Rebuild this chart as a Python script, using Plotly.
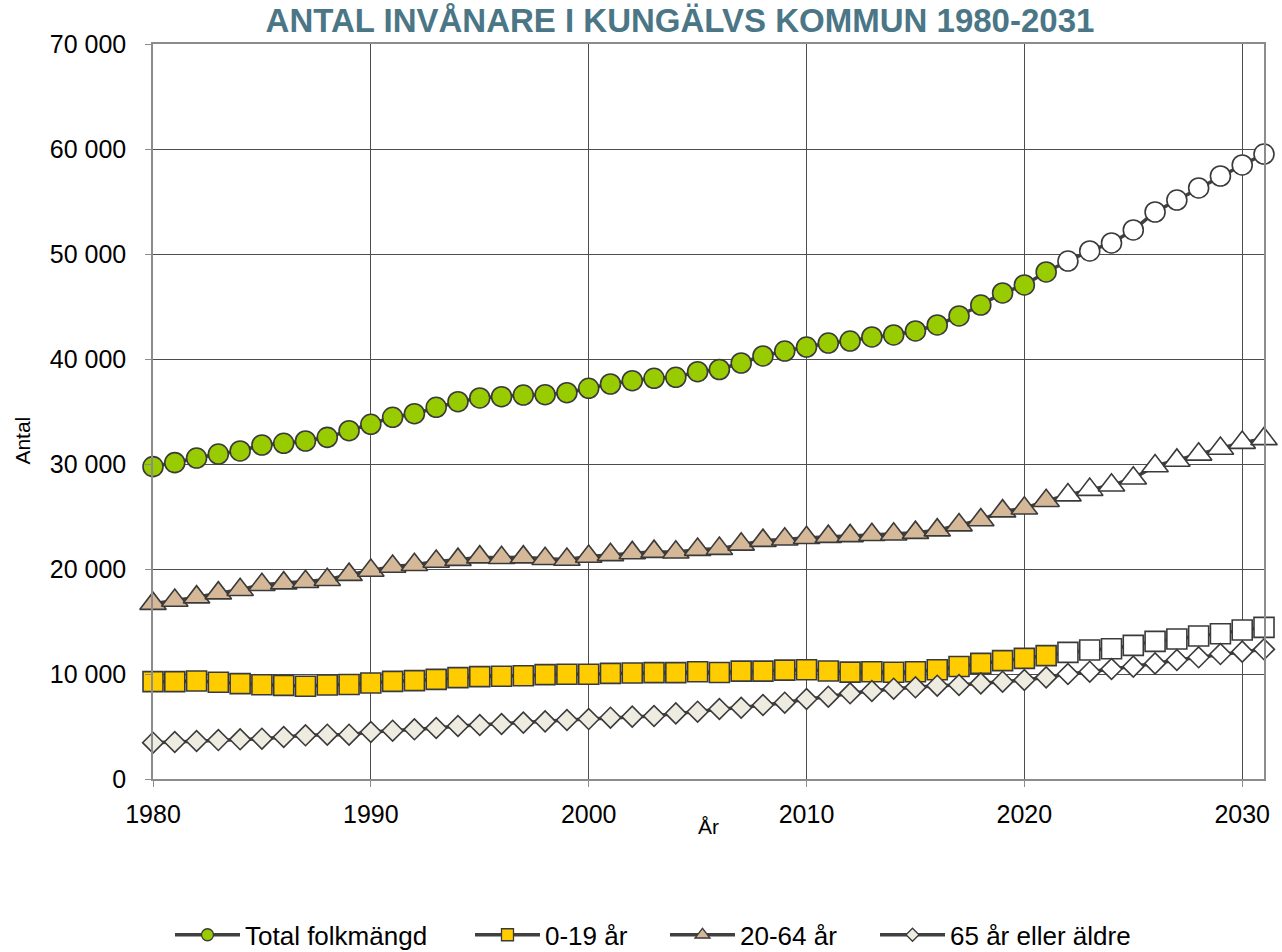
import plotly.graph_objects as go

years = list(range(1980, 2032))

total = [29750, 30130, 30570, 30950, 31240, 31810, 31970, 32190, 32540, 33170,
         33780, 34450, 34790, 35400, 35930, 36290, 36410, 36570, 36600, 36790,
         37210, 37620, 37930, 38160, 38260, 38790, 39000, 39620, 40290, 40760,
         41140, 41520, 41710, 42100, 42290, 42670, 43240, 44100, 45140, 46290,
         47050, 48290, 49330, 50290, 51050, 52290, 54000, 55140, 56290, 57430,
         58480, 59520]

age_0_19 = [9270, 9270, 9330, 9210, 9080, 8980, 8920, 8830, 8950, 9000,
            9140, 9300, 9370, 9490, 9650, 9750, 9780, 9840, 9940, 9970,
            9970, 10060, 10100, 10130, 10130, 10220, 10140, 10270, 10270, 10370,
            10410, 10290, 10180, 10220, 10160, 10220, 10410, 10710, 11010, 11270,
            11490, 11750, 12060, 12290, 12410, 12730, 13110, 13330, 13620, 13840,
            14190, 14440]

age_20_64 = [16700, 17000, 17320, 17700, 18020, 18500, 18650, 18780, 18970, 19460,
             19860, 20240, 20400, 20720, 20890, 21130, 21070, 21130, 20970, 20910,
             21190, 21350, 21530, 21650, 21590, 21850, 21940, 22350, 22700, 22830,
             22970, 23080, 23150, 23260, 23310, 23460, 23700, 24180, 24670, 25510,
             25780, 26500, 27040, 27560, 27970, 28640, 29810, 30340, 30920, 31480,
             32040, 32390]

age_65 = [3460, 3520, 3620, 3710, 3780, 3840, 4000, 4160, 4220, 4220,
          4480, 4600, 4730, 4860, 5050, 5140, 5240, 5370, 5490, 5620,
          5710, 5840, 5940, 6000, 6250, 6410, 6670, 6790, 7050, 7270,
          7620, 7840, 8160, 8380, 8600, 8730, 8890, 8950, 9110, 9270,
          9430, 9680, 10000, 10220, 10480, 10700, 11010, 11330, 11590, 11900,
          12130, 12350]

last_observed_year = 2021

y_tickvals = [0, 10000, 20000, 30000, 40000, 50000, 60000, 70000]
y_ticktext = ["0", "10 000", "20 000", "30 000", "40 000", "50 000", "60 000", "70 000"]
x_tickvals = [1980, 1990, 2000, 2010, 2020, 2030]

series = [
    ("Total folkmängd", total, "circle", 20, 12, "#99cc00"),
    ("0-19 år", age_0_19, "square", 20, 12, "#ffcc00"),
    ("20-64 år", age_20_64, "triangle-up", 23, 13, "#d5b898"),
    ("65 år eller äldre", age_65, "diamond", 16, 10, "#eeebe0"),
]

W, H = 1282, 952
ML, MR, MT, MB = 153, 14, 44, 173
legend_x_px = [170, 470, 665, 875]

font_main = "Liberation Sans, Arial, sans-serif"

fig = go.Figure()
for i, (name, vals, sym, size, lsize, color) in enumerate(series):
    colors = [color if yr <= last_observed_year else "#ffffff" for yr in years]
    lg = "legend" if i == 0 else f"legend{i+1}"
    fig.add_trace(go.Scatter(
        x=years, y=vals, name=name, mode="lines+markers",
        line=dict(color="#404040", width=3.5),
        marker=dict(symbol=sym, size=size, color=colors,
                    line=dict(color="#3a3a3a", width=1.6)),
        cliponaxis=False, showlegend=False,
    ))
    # legend entry (smaller marker, as in the reference legend)
    fig.add_trace(go.Scatter(
        x=[None], y=[None], name=name, mode="lines+markers",
        line=dict(color="#404040", width=3.5),
        marker=dict(symbol=sym, size=lsize, color=color,
                    line=dict(color="#3a3a3a", width=1.3)),
        showlegend=True, legend=lg, hoverinfo="skip",
    ))

legend_common = dict(
    orientation="h", xref="container", xanchor="left",
    yref="container", y=0.018, yanchor="middle",
    font=dict(family=font_main, size=26, color="#000000"),
    itemwidth=65, bgcolor="rgba(0,0,0,0)",
)
legends = {}
for i, px in enumerate(legend_x_px):
    key = "legend" if i == 0 else f"legend{i+1}"
    legends[key] = dict(legend_common, x=px / W)

fig.update_layout(
    width=W, height=H,
    margin=dict(l=ML, r=MR, t=MT, b=MB),
    paper_bgcolor="#ffffff", plot_bgcolor="#ffffff",
    title=dict(
        text="<b>ANTAL INVÅNARE I KUNGÄLVS KOMMUN 1980-2031</b>",
        x=0.5304, xanchor="center", y=0.979, yanchor="middle",
        font=dict(family=font_main, size=33, color="#4a7686"),
    ),
    showlegend=True,
    **legends,
    xaxis=dict(
        range=[1980, 2031], tickvals=x_tickvals, ticktext=[str(v) for v in x_tickvals],
        showgrid=True, gridcolor="#4d4d4d", gridwidth=1,
        showline=True, linecolor="#8c8c8c", linewidth=1.5, mirror=True,
        ticks="outside", ticklen=6, tickcolor="#8c8c8c",
        tickfont=dict(family=font_main, size=25, color="#000000"), zeroline=False,
        ticklabelstandoff=6,
    ),
    yaxis=dict(
        range=[0, 70000], tickvals=y_tickvals, ticktext=y_ticktext,
        showgrid=True, gridcolor="#4d4d4d", gridwidth=1,
        showline=True, linecolor="#8c8c8c", linewidth=1.5, mirror=True,
        ticks="outside", ticklen=6, tickcolor="#8c8c8c",
        tickfont=dict(family=font_main, size=25, color="#000000"), zeroline=False,
        ticklabelstandoff=14,
    ),
    annotations=[
        dict(text="År", xref="paper", yref="paper", x=0.5, y=-0.064,
             xanchor="center", yanchor="middle", showarrow=False,
             font=dict(family=font_main, size=21, color="#000000")),
        dict(text="Antal", xref="paper", yref="paper", x=-0.1175, y=0.461,
             xanchor="center", yanchor="middle", showarrow=False, textangle=-90,
             font=dict(family=font_main, size=21, color="#000000")),
    ],
)

fig.write_html("out.html", config={"displayModeBar": False},
               post_script="document.body.style.margin='0px';")
